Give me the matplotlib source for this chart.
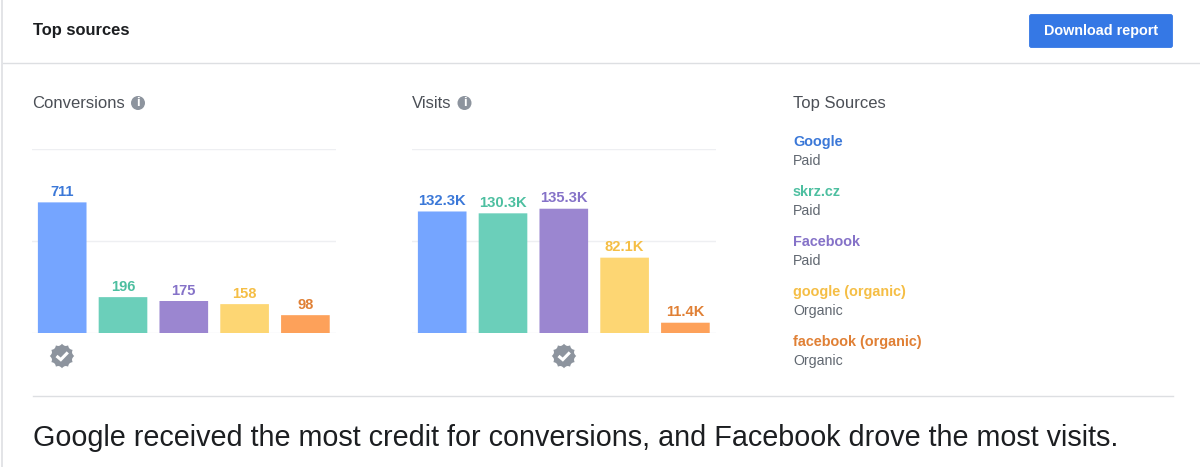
import matplotlib
matplotlib.use("Agg")
import matplotlib.pyplot as plt
from matplotlib.patches import FancyBboxPatch, Circle, RegularPolygon

plt.rcParams['font.family'] = ['Liberation Sans', 'DejaVu Sans']

conv_values = [711, 196, 175, 158, 98]
conv_labels = ['711', '196', '175', '158', '98']
visit_values = [132300, 130300, 135300, 82100, 11400]
visit_labels = ['132.3K', '130.3K', '135.3K', '82.1K', '11.4K']
sources = ['Google', 'skrz.cz', 'Facebook', 'google (organic)', 'facebook (organic)']
channels = ['Paid', 'Paid', 'Paid', 'Organic', 'Organic']
bar_colors = ['#75A5FF', '#6BCFBA', '#9B86D0', '#FDD673', '#FDA15A']
text_colors = ['#3B78D8', '#4DBFA0', '#8572C8', '#F5BE45', '#E08035']

W, H = 1200, 467
fig = plt.figure(figsize=(W / 100, H / 100), dpi=100, facecolor='white')

# page overlay in pixel coordinates
pg = fig.add_axes([0, 0, 1, 1], zorder=0)
pg.set_xlim(0, W)
pg.set_ylim(H, 0)
pg.axis('off')

DARK = '#1C1E21'
BODY = '#4B4F56'
GREY = '#8D949E'

pg.plot([2, 2], [0, H], color='#E3E4E7', lw=1.4)
pg.plot([3, W], [62.5, 62.5], color='#DDDFE2', lw=1)
pg.plot([33, 1173], [396, 396], color='#DDDFE2', lw=1)

pg.text(33, 35.5, 'Top sources', fontsize=11.9, fontweight='bold', color=DARK, va='baseline')
pg.add_patch(FancyBboxPatch((1029.5, 14.5), 143, 33, boxstyle='round,pad=0,rounding_size=2',
                            fc='#3578E5', ec='#3578E5', lw=0.6))
pg.text(1101, 30.5, 'Download report', fontsize=10.4, fontweight='bold', color='white',
        ha='center', va='center')


def info(x, y):
    pg.add_patch(Circle((x, y), 7, fc=GREY, ec='none'))
    pg.text(x, y + 0.3, 'i', fontsize=9.5, fontweight='bold', color='white', ha='center', va='center')


def badge(x, y):
    pg.add_patch(Circle((x, y), 10.6, fc=GREY, ec='none'))
    for k in range(3):
        pg.add_patch(RegularPolygon((x, y), 4, radius=12.2, orientation=k * 0.5236,
                                    fc=GREY, ec='none'))
    pg.plot([x - 5.5, x - 1.2, x + 5.8], [y, y + 3.6, y - 3.6], color='white', lw=2.2,
            solid_capstyle='butt', solid_joinstyle='miter')


pg.text(32.5, 108, 'Conversions', fontsize=12, color=BODY, va='baseline')
info(138, 103)
pg.text(412, 108, 'Visits', fontsize=12, color=BODY, va='baseline')
info(464.5, 103)
pg.text(793, 108, 'Top Sources', fontsize=12, color=BODY, va='baseline')
badge(62, 356)
badge(564, 356)

for i, (s, c) in enumerate(zip(sources, channels)):
    y = 146 + i * 50
    pg.text(793, y, s, fontsize=10.4, fontweight='bold', color=text_colors[i], va='baseline')
    pg.text(793, y + 19, c, fontsize=10.2, color='#606770', va='baseline')

pg.text(33, 446.5, 'Google received the most credit for conversions, and Facebook drove the most visits.',
        fontsize=20.68, color=DARK, va='baseline')


def panel(x0, values, labels, ymax, ticks):
    ax = fig.add_axes([x0 / W, 1 - 333.2 / H, 304 / W, 184 / H], zorder=1)
    ax.patch.set_alpha(0)
    xs = range(len(values))
    ax.bar(xs, values, width=0.8, color=bar_colors, zorder=2, snap=False)
    ax.set_xlim(-0.5, 4.5)
    ax.set_ylim(0, ymax)
    ax.set_yticks(ticks)
    ax.grid(axis='y', color='#EEEFF2', lw=1, zorder=0)
    ax.tick_params(length=0, labelbottom=False, labelleft=False)
    for sp in ax.spines.values():
        sp.set_visible(False)
    for x, v, t, col in zip(xs, values, labels, text_colors):
        ax.annotate(t, (x, v), xytext=(0, 2.4), textcoords='offset points', ha='center', va='bottom',
                    fontsize=10.6, fontweight='bold', color=col)


panel(31.8, conv_values, conv_labels, 1000, [0, 500, 1000])
panel(411.8, visit_values, visit_labels, 200000, [0, 100000, 200000])

fig.savefig('out.png', dpi=100, facecolor='white')
